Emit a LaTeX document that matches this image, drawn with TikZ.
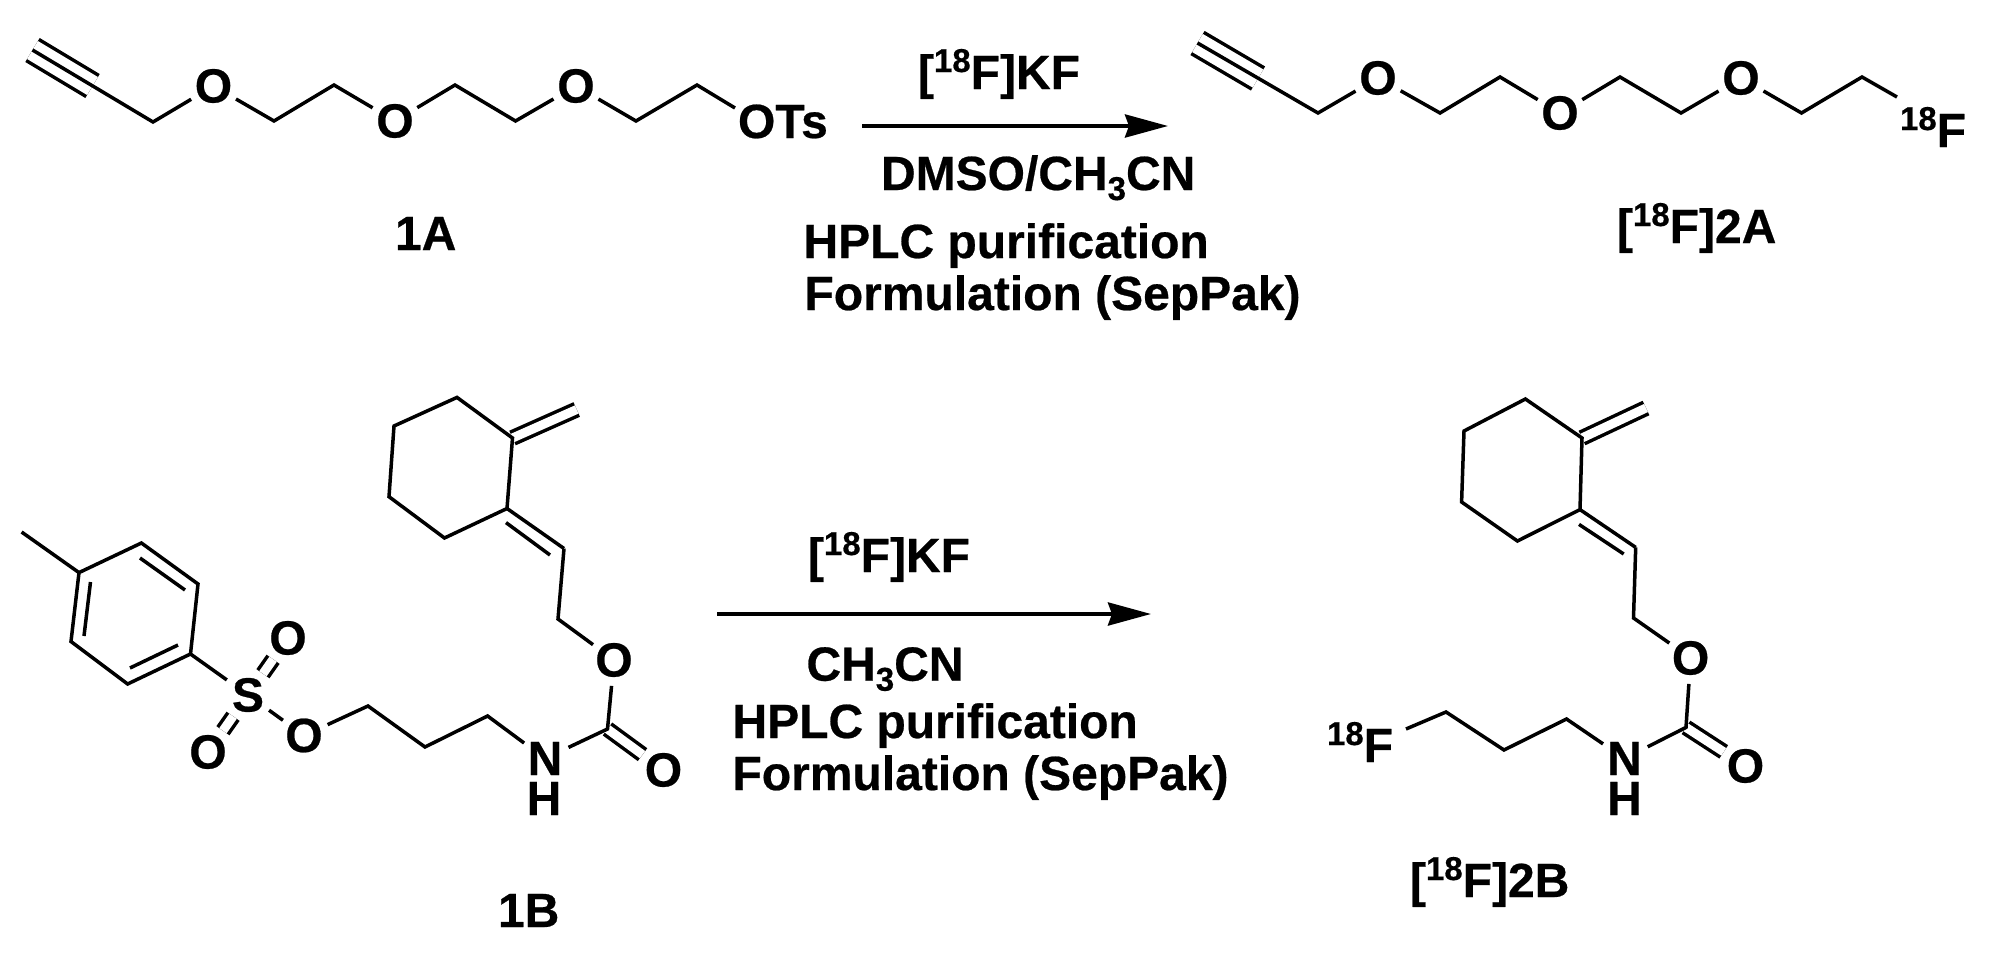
\documentclass[tikz,border=0pt]{standalone}
\usepackage{fontspec}
\setmainfont[BoldFeatures={FakeBold=0.5}]{Liberation Sans}
\usetikzlibrary{arrows.meta}

\newcommand{\isoF}{\raisebox{17pt}{\fontsize{33}{33}\selectfont 18}F}
\newcommand{\subthree}{\raisebox{-10pt}{\fontsize{33}{33}\selectfont 3}}

\tikzset{
  bond/.style={line width=3.5pt},
  dbl/.style={line width=3.5pt, double, double distance=9pt},
  tpl/.style={line width=3.5pt, double, double distance=21pt},
  rxn/.style={line width=4pt, -{Stealth[length=43pt,width=23pt,inset=4pt]}},
  atom/.style={circle, inner sep=0pt, outer sep=0pt, minimum size=52pt, font=\fontsize{48}{48}\selectfont\bfseries},
  txt/.style={anchor=base west, inner sep=0pt, outer sep=0pt, font=\fontsize{48}{48}\selectfont\bfseries}
}

\begin{document}
\begin{tikzpicture}[x=1pt, y=-1pt]
    \useasboundingbox (0, 0) rectangle (2000, 958);

    % Alkyne tosylate 1A
    \coordinate (ah) at (32.5, 50);
    \coordinate (ai) at (92.5, 86);
    \coordinate (a1) at (153, 122);
    \coordinate (a2) at (274, 121);
    \coordinate (a3) at (334, 85);
    \coordinate (a4) at (455, 85);
    \coordinate (a5) at (515.5, 121);
    \coordinate (a6) at (636, 121);
    \coordinate (a7) at (697, 85);
    \coordinate (a8) at (735, 108);
    \node[atom] (ao1) at (213.5, 86) {O};
    \node[atom] (ao2) at (395, 121) {O};
    \node[atom] (ao3) at (576, 86) {O};
    \node[txt] (aots) at (738, 138) {OTs};
    \draw[tpl] (ah) -- (ai);
    \draw[bond] (ah) -- (a1) -- (ao1);
    \draw[bond] (ao1) -- (a2) -- (a3) -- (ao2);
    \draw[bond] (ao2) -- (a4) -- (a5) -- (ao3);
    \draw[bond] (ao3) -- (a6) -- (a7) -- (a8);
    \node[txt] (lab1a) at (395, 250) {1A};

    % First reaction arrow
    \coordinate (r1s) at (862, 126);
    \coordinate (r1e) at (1168, 126);
    \draw[rxn] (r1s) -- (r1e);
    \node[txt] (r1a) at (918, 89) {[\isoF]KF};
    \node[txt] (r1b) at (881, 190) {DMSO/CH\subthree CN};
    \node[txt] (r1c) at (803.5, 258) {HPLC purification};
    \node[txt] (r1d) at (804.5, 310) {Formulation (SepPak)};

    % Fluoride 2A
    \coordinate (bh) at (1197.5, 43);
    \coordinate (bi) at (1258, 78.5);
    \coordinate (b1) at (1318, 113);
    \coordinate (b2) at (1440, 113);
    \coordinate (b3) at (1500, 77);
    \coordinate (b4) at (1620, 77);
    \coordinate (b5) at (1681, 113);
    \coordinate (b6) at (1801.5, 113);
    \coordinate (b7) at (1862, 77);
    \coordinate (b8) at (1897, 97);
    \node[atom] (bo1) at (1378, 78) {O};
    \node[atom] (bo2) at (1560, 113) {O};
    \node[atom] (bo3) at (1741, 78) {O};
    \node[txt] (bf) at (1900, 147) {\isoF};
    \draw[tpl] (bh) -- (bi);
    \draw[bond] (bh) -- (b1) -- (bo1);
    \draw[bond] (bo1) -- (b2) -- (b3) -- (bo2);
    \draw[bond] (bo2) -- (b4) -- (b5) -- (bo3);
    \draw[bond] (bo3) -- (b6) -- (b7) -- (b8);
    \node[txt] (lab2a) at (1617, 243) {[\isoF]2A};

    % Tosylate 1B, aryl ring
    \coordinate (cme) at (21.6, 532);
    \coordinate (c1) at (79, 572.6);
    \coordinate (c2) at (141.4, 543);
    \coordinate (c3) at (198, 584);
    \coordinate (c4) at (190.5, 654);
    \coordinate (c5) at (127.6, 684);
    \coordinate (c6) at (71, 641.5);
    \coordinate (i1) at (140, 558);
    \coordinate (i2) at (185, 590);
    \coordinate (i3) at (90.5, 582);
    \coordinate (i4) at (84, 636);
    \coordinate (i5) at (178, 645);
    \coordinate (i6) at (130, 668);
    \draw[bond] (cme) -- (c1);
    \draw[bond] (c1) -- (c2) -- (c3) -- (c4) -- (c5) -- (c6) -- cycle;
    \draw[bond] (i1) -- (i2);
    \draw[bond] (i3) -- (i4);
    \draw[bond] (i5) -- (i6);

    % Sulfonate
    \node[atom] (s) at (248, 695) {S};
    \node[atom] (so1) at (288, 638) {O};
    \node[atom] (so2) at (208, 752) {O};
    \node[atom] (so3) at (304, 735.5) {O};
    \draw[dbl] (s) -- (so1);
    \draw[dbl] (s) -- (so2);
    \draw[bond] (c4) -- (s);
    \draw[bond] (s) -- (so3);

    % Propyl carbamate 1B
    \coordinate (d1) at (368, 706);
    \coordinate (d2) at (425, 747);
    \coordinate (d3) at (487.6, 716);
    \coordinate (d4) at (607.5, 729);
    \coordinate (d5) at (558, 619);
    \coordinate (d6) at (564, 548.5);
    \coordinate (i7) at (506, 522.6);
    \coordinate (i8) at (550, 555);
    \node[atom] (dn) at (545, 758.5) {N};
    \node[atom] (dh) at (544, 798.5) {H};
    \node[atom] (do1) at (614, 660) {O};
    \node[atom] (do2) at (663.5, 770) {O};
    \draw[dbl] (d4) -- (do2);
    \draw[bond] (so3) -- (d1) -- (d2) -- (d3) -- (dn);
    \draw[bond] (dn) -- (d4) -- (do1);
    \draw[bond] (do1) -- (d5) -- (d6);
    \draw[bond] (i7) -- (i8);

    % Cyclohexane 1B
    \coordinate (e1) at (507, 508.5);
    \coordinate (e2) at (444.5, 538);
    \coordinate (e3) at (389, 496.7);
    \coordinate (e4) at (394, 426);
    \coordinate (e5) at (457, 397.4);
    \coordinate (e6) at (512.5, 438);
    \coordinate (e7) at (576.7, 409.5);
    \draw[dbl] (e6) -- (e7);
    \draw[bond] (e1) -- (e2) -- (e3) -- (e4) -- (e5) -- (e6) -- cycle;
    \draw[bond] (e1) -- (d6);
    \node[txt] (lab1b) at (498, 927) {1B};

    % Second reaction arrow
    \coordinate (r2s) at (717, 614);
    \coordinate (r2e) at (1151, 614);
    \draw[rxn] (r2s) -- (r2e);
    \node[txt] (r2a) at (808, 572) {[\isoF]KF};
    \node[txt] (r2b) at (806.5, 680.7) {CH\subthree CN};
    \node[txt] (r2c) at (732.5, 738) {HPLC purification};
    \node[txt] (r2d) at (732.5, 790) {Formulation (SepPak)};

    % Propyl carbamate 2B
    \coordinate (f1) at (1406, 729);
    \coordinate (f2) at (1446, 712);
    \coordinate (f3) at (1504, 750);
    \coordinate (f4) at (1566.5, 719);
    \coordinate (f5) at (1686, 727.4);
    \coordinate (f6) at (1633.5, 618);
    \coordinate (f7) at (1635.7, 547.4);
    \coordinate (i9) at (1579, 524.4);
    \coordinate (i10) at (1623.7, 554);
    \node[txt] (ff) at (1327, 762) {\isoF};
    \node[atom] (fn) at (1624.5, 758.5) {N};
    \node[atom] (fh) at (1624.5, 798.5) {H};
    \node[atom] (fo1) at (1690.6, 658) {O};
    \node[atom] (fo2) at (1745.5, 766) {O};
    \draw[dbl] (f5) -- (fo2);
    \draw[bond] (f1) -- (f2) -- (f3) -- (f4) -- (fn);
    \draw[bond] (fn) -- (f5) -- (fo1);
    \draw[bond] (fo1) -- (f6) -- (f7);
    \draw[bond] (i9) -- (i10);

    % Cyclohexane 2B
    \coordinate (g1) at (1580, 509.6);
    \coordinate (g2) at (1517.4, 541);
    \coordinate (g3) at (1461.6, 502);
    \coordinate (g4) at (1464, 431);
    \coordinate (g5) at (1525.4, 399);
    \coordinate (g6) at (1582, 438);
    \coordinate (g7) at (1646, 408);
    \draw[dbl] (g6) -- (g7);
    \draw[bond] (g1) -- (g2) -- (g3) -- (g4) -- (g5) -- (g6) -- cycle;
    \draw[bond] (g1) -- (f7);
    \node[txt] (lab2b) at (1410, 897) {[\isoF]2B};
\end{tikzpicture}
\end{document}
